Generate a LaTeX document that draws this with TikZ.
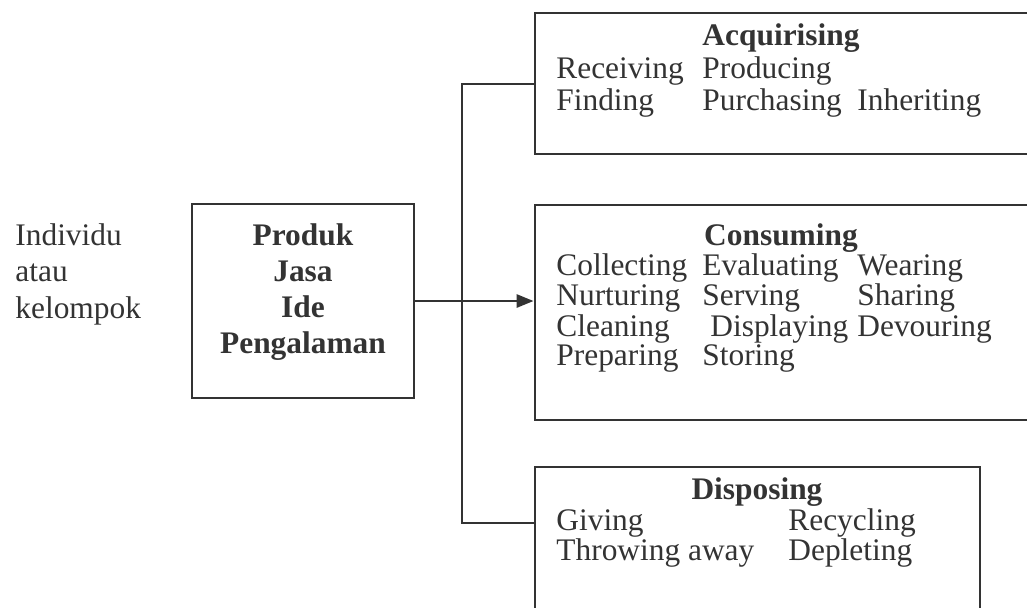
\documentclass[tikz,border=0pt]{standalone}
\usepackage{fontspec}
\setmainfont{Liberation Serif}
\usetikzlibrary{arrows.meta,positioning}

\definecolor{ink}{HTML}{333333}

\tikzset{
  box/.style={draw=ink, line width=1.4pt, rectangle, inner sep=0pt},
  link/.style={draw=ink, line width=1.4pt},
  txt/.style={anchor=base west, inner sep=0pt, text=ink},
  title/.style={anchor=base, inner sep=0pt, text=ink,
    font=\fontsize{15.7}{15.5}\selectfont\bfseries},
}

\begin{document}
\begin{tikzpicture}[x=0.5pt,y=-0.5pt]
\useasboundingbox (0,0) rectangle (1027,607);
\clip (0,0) rectangle (1027,607);

% Boxes
\node[box, minimum width=111pt, minimum height=97pt] (prod) at (303,301) {};
\node[box, minimum width=248.5pt, minimum height=70.5pt] (acq) at (783.5,83.5) {};
\node[box, minimum width=248.5pt, minimum height=107.5pt] (cons) at (783.5,312.5) {};
\node[box, minimum width=222.5pt, minimum height=76.5pt] (disp) at (757.5,543.5) {};

% Left text
\node[txt, font=\fontsize{15.7}{18.25}\selectfont] (who) at (15,245)
  {\begin{tabular}[t]{@{}l@{}}Individu\\atau\\kelompok\end{tabular}};

% Produk box text
\node[txt, anchor=base, font=\fontsize{15.7}{18}\selectfont\bfseries] (prodtext) at (303,245)
  {\begin{tabular}[t]{@{}c@{}}Produk\\Jasa\\Ide\\Pengalaman\end{tabular}};

% Acquirising
\node[title] (acqtitle) at (781,45) {Acquirising};
\node[txt, font=\fontsize{15.7}{16.25}\selectfont] (acqtext) at (556,78)
  {\begin{tabular}[t]{@{}p{73pt}@{}p{77.5pt}@{}l@{}}
   Receiving & Producing & \\
   Finding & Purchasing & Inheriting
   \end{tabular}};

% Consuming
\node[title] (constitle) at (781,245) {Consuming};
\node[txt, font=\fontsize{15.7}{14.75}\selectfont] (constext) at (556,275)
  {\begin{tabular}[t]{@{}p{73pt}@{}p{77.5pt}@{}l@{}}
   Collecting & Evaluating & Wearing\\
   Nurturing & Serving & Sharing\\
   Cleaning & \hspace{4pt}Displaying & Devouring\\
   Preparing & Storing &
   \end{tabular}};

% Disposing
\node[title] (disptitle) at (757,499) {Disposing};
\node[txt, font=\fontsize{15.7}{15}\selectfont] (disptext) at (556,530)
  {\begin{tabular}[t]{@{}p{116pt}@{}l@{}}
   Giving & Recycling\\
   Throwing away & Depleting
   \end{tabular}};

% Connectors
\coordinate (jtop) at (462,84);
\coordinate (jbot) at (462,523);
\draw[link] (acq.west |- jtop) -- (jtop) -- (jbot) -- (disp.west |- jbot);
\draw[link, -{Triangle[length=8.5pt,width=6.5pt]}] (prod.east) -- (cons.west |- prod.east);

\end{tikzpicture}
\end{document}
